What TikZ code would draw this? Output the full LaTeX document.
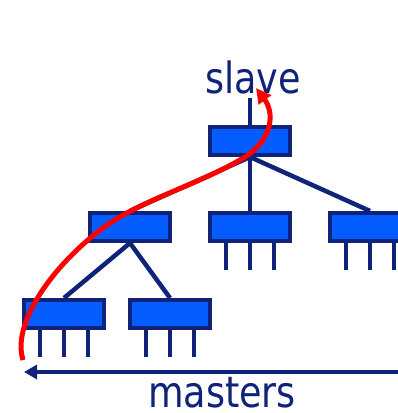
\documentclass[tikz,border=0pt]{standalone}
\usepackage{fontspec}
\setmainfont{DejaVu Sans}[FakeStretch=0.85]
\usepackage{tikz}
\usetikzlibrary{arrows.meta, positioning}
\definecolor{navy}{RGB}{15,35,120}
\definecolor{swblue}{RGB}{5,92,255}
\definecolor{tokred}{RGB}{255,0,0}
\tikzset
{%
bus/.style={draw=navy, fill=swblue, line width=4pt, rectangle, minimum width=80pt, minimum height=28pt, inner sep=0pt},
wire/.style={draw=navy, line width=4.5pt},
pin/.style={draw=navy, line width=4.5pt},
big/.style={text=navy, font=\fontsize{43}{43}\selectfont, inner sep=0pt, anchor=base}
}

\begin{document}
\begin{tikzpicture}[x=1pt, y=-1pt]
	\useasboundingbox (0,0) rectangle (398,413);

	% switches, top to bottom
	\node[bus] (root) at (250,141) {};
	\node[bus] (l1) at (130,227) {};
	\node[bus] (m1) at (250,227) {};
	\node[bus] (r1) at (370,227) {};
	\node[bus] (ll) at (64,314) {};
	\node[bus] (lr) at (170,314) {};

	% labels
	\node[big] (slave) at (253,93) {slave};
	\node[big] (masters) at (222,407) {masters};
	\coordinate (up) at (250,98);
	\coordinate (ml) at (24,372);
	\coordinate (mr) at (411,372);

	% tree links
	\path[wire] (up) edge (root.north)
	(root.south) edge (l1.north) (root.south) edge (m1.north) (root.south) edge (r1.north)
	(l1.south) edge (ll.north) (l1.south) edge (lr.north);

	% master ports
	\foreach \b in {m1, r1, ll, lr}
		\foreach \dx in {-24, 0, 24}
			\draw[pin] ([xshift=\dx pt]\b.south) -- ++(0,27);

	% range of masters
	\draw[wire, {Triangle[length=13pt, width=14pt]}-{Triangle[length=13pt, width=14pt]}] (ml) -- (mr);

	% path up the tree
	\draw[tokred, line width=5pt, -{Triangle[length=15pt, width=15pt]}]
		(23,360) .. controls (9,315) and (73,243) .. (123,215)
		.. controls (163,193) and (205,181) .. (245,157)
		.. controls (274,138) and (274,112) .. (256,88);
\end{tikzpicture}
\end{document}
